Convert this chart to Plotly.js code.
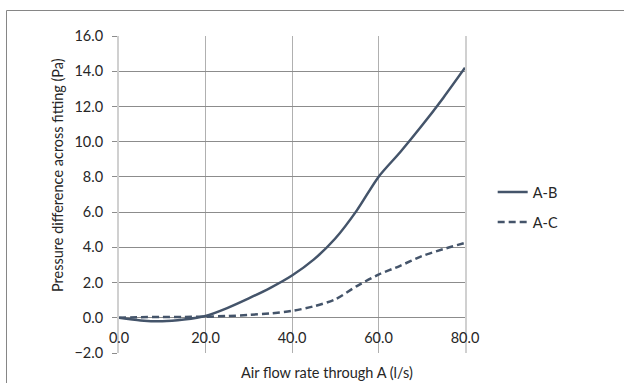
<!DOCTYPE html>
<html>
<head>
<meta charset="utf-8">
<script src="https://cdn.plot.ly/plotly-3.0.1.min.js"></script>
<style>html,body{margin:0;padding:0;background:#fff}#chart{width:624px;height:383px}</style>
</head>
<body>
<div id="chart"></div>
<script>
const flow = [0, 5, 10, 15, 20, 25, 30, 35, 40, 45, 50, 55, 60, 65, 70, 75, 80];
const dpAB = [0, -0.15, -0.2, -0.1, 0.1, 0.55, 1.1, 1.7, 2.4, 3.3, 4.5, 6.1, 8.0, 9.4, 10.9, 12.5, 14.2];
const dpAC = [0, 0.03, 0.05, 0.05, 0.06, 0.1, 0.16, 0.25, 0.39, 0.65, 1.05, 1.8, 2.45, 2.95, 3.5, 3.9, 4.25];
const seriesNames = ['A-B', 'A-C'];
const xTitle = 'Air flow rate through A (l/s)';
const yTitle = 'Pressure difference across fitting (Pa)';

const lineColor = '#44546a';
const font = {family: 'Lato, "Open Sans", sans-serif', size: 14.5, color: '#262626'};

const traces = [
  {x: flow, y: dpAB, name: seriesNames[0], type: 'scatter', mode: 'lines', legendgroup: 'a',
   line: {color: lineColor, width: 2.5, shape: 'spline', smoothing: 0.8}},
  {x: flow, y: dpAC, name: seriesNames[1], type: 'scatter', mode: 'lines', legendgroup: 'b',
   line: {color: lineColor, width: 2.5, dash: '7px,4px', shape: 'spline', smoothing: 0.8}}
];

const layout = {
  width: 624, height: 383,
  margin: {l: 119, r: 159, t: 36, b: 30},
  paper_bgcolor: '#ffffff', plot_bgcolor: '#ffffff',
  font: font,
  showlegend: true,
  legend: {x: 1.08, xanchor: 'left', y: 0.46, yanchor: 'middle', tracegroupgap: 8,
           font: font, bgcolor: 'rgba(0,0,0,0)'},
  xaxis: {
    range: [0, 80], dtick: 20, tick0: 0, tickformat: '.1f',
    anchor: 'free', position: 2 / 18,
    showgrid: true, gridcolor: '#b0b0b0', gridwidth: 1,
    zeroline: false, showline: false, ticks: '', ticklabelstandoff: 10,
    fixedrange: true
  },
  yaxis: {
    range: [-2, 16], dtick: 2, tick0: 0, tickformat: '.1f',
    showgrid: true, gridcolor: '#8c8c8c', gridwidth: 1,
    zeroline: false, showline: true, linecolor: '#d0d0d0', linewidth: 2, mirror: true,
    ticks: 'outside', ticklen: 5, tickcolor: '#8c8c8c', ticklabelstandoff: 6,
    fixedrange: true
  },
  annotations: [
    {text: xTitle, xref: 'paper', yref: 'paper', x: (327 - 119) / 346, y: (353 - 372) / 317,
     xanchor: 'center', yanchor: 'middle', showarrow: false, font: font},
    {text: yTitle, xref: 'paper', yref: 'paper', x: (57 - 119) / 346, y: (353 - 175) / 317,
     xanchor: 'center', yanchor: 'middle', showarrow: false, textangle: -90, font: font}
  ],
  shapes: [
    {type: 'rect', xref: 'paper', yref: 'paper', x0: (6.5 - 119) / 346, x1: 3, y0: -3, y1: (353 - 10.5) / 317,
     line: {color: '#868686', width: 1}, fillcolor: 'rgba(0,0,0,0)', layer: 'below'}
  ]
};

Plotly.newPlot('chart', traces, layout, {displayModeBar: false, staticPlot: true});
</script>
</body>
</html>
